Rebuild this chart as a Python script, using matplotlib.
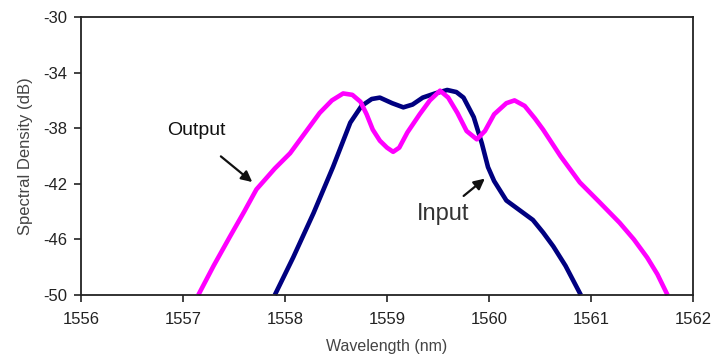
import matplotlib
matplotlib.use("Agg")
import matplotlib.pyplot as plt

plt.rcParams['font.family'] = ['Liberation Sans', 'DejaVu Sans']

# wavelength (nm) / spectral density (dB)
out_wl = [1557.15, 1557.30, 1557.46, 1557.60, 1557.72, 1557.90, 1558.05, 1558.20,
          1558.34, 1558.46, 1558.57, 1558.66, 1558.74, 1558.80, 1558.86, 1558.93,
          1559.00, 1559.06, 1559.12, 1559.20, 1559.32, 1559.42, 1559.52, 1559.60,
          1559.69, 1559.78, 1559.88, 1559.96, 1560.05, 1560.17, 1560.25, 1560.35,
          1560.45, 1560.53, 1560.70, 1560.89, 1561.08, 1561.28, 1561.42, 1561.55,
          1561.65, 1561.75]
out_db = [-50, -47.9, -45.8, -44.0, -42.4, -40.9, -39.8, -38.3,
          -36.9, -36.0, -35.5, -35.6, -36.1, -37.0, -38.1, -38.9,
          -39.4, -39.7, -39.4, -38.3, -37.0, -36.0, -35.3, -35.8,
          -36.9, -38.2, -38.8, -38.2, -37.0, -36.2, -36.0, -36.4,
          -37.3, -38.1, -40.0, -41.9, -43.3, -44.8, -46.0, -47.3,
          -48.5, -50]

in_wl = [1557.90, 1558.08, 1558.28, 1558.47, 1558.64, 1558.75, 1558.85, 1558.93,
         1559.05, 1559.16, 1559.25, 1559.35, 1559.47, 1559.59, 1559.68, 1559.75,
         1559.85, 1559.93, 1559.99, 1560.05, 1560.17, 1560.30, 1560.43, 1560.53,
         1560.63, 1560.75, 1560.90]
in_db = [-50, -47.3, -44.1, -40.8, -37.6, -36.4, -35.9, -35.8,
         -36.2, -36.5, -36.3, -35.8, -35.5, -35.25, -35.4, -35.8,
         -37.2, -39.1, -40.8, -41.8, -43.2, -43.9, -44.6, -45.5,
         -46.5, -47.9, -50]

x_ticks = [1556, 1557, 1558, 1559, 1560, 1561, 1562]
y_ticks = [-50, -46, -42, -38, -34, -30]

fig = plt.figure(figsize=(7.13, 3.63), dpi=100)
ax = fig.add_axes([0.1136, 0.1873, 0.8584, 0.7659])

ax.plot(in_wl, in_db, color='#000080', lw=3.3, solid_capstyle='butt', clip_on=False)
ax.plot(out_wl, out_db, color='#FF00FF', lw=3.3, solid_capstyle='butt', clip_on=False)

ax.set_xlim(1556, 1562)
ax.set_ylim(-50, -30)
ax.set_xticks(x_ticks)
ax.set_yticks(y_ticks)
ax.set_xticklabels([str(t) for t in x_ticks])
ax.set_yticklabels([str(t) for t in y_ticks])
ax.tick_params(direction='out', length=5, width=1.2, labelsize=12, colors='#222222')
ax.tick_params(axis='x', pad=7)
ax.tick_params(axis='y', pad=5)
for s in ax.spines.values():
    s.set_linewidth(1.3)
    s.set_color('#222222')

ax.set_xlabel('Wavelength (nm)', fontsize=11.5, color='#444444', labelpad=9)
ax.set_ylabel('Spectral Density (dB)', fontsize=12, color='#444444', labelpad=7)

ax.text(1557.13, -38.2, 'Output', fontsize=14, ha='center', va='center', color='#111111')
ax.annotate('', xy=(1557.70, -42.0), xytext=(1557.35, -39.9),
            arrowprops=dict(arrowstyle='-|>', color='#111111', lw=1.6, mutation_scale=16))
ax.text(1559.55, -44.2, 'Input', fontsize=17, ha='center', va='center', color='#333333')
ax.annotate('', xy=(1559.98, -41.5), xytext=(1559.73, -43.0),
            arrowprops=dict(arrowstyle='-|>', color='#111111', lw=1.6, mutation_scale=16))

fig.savefig('out.png', dpi=100)
